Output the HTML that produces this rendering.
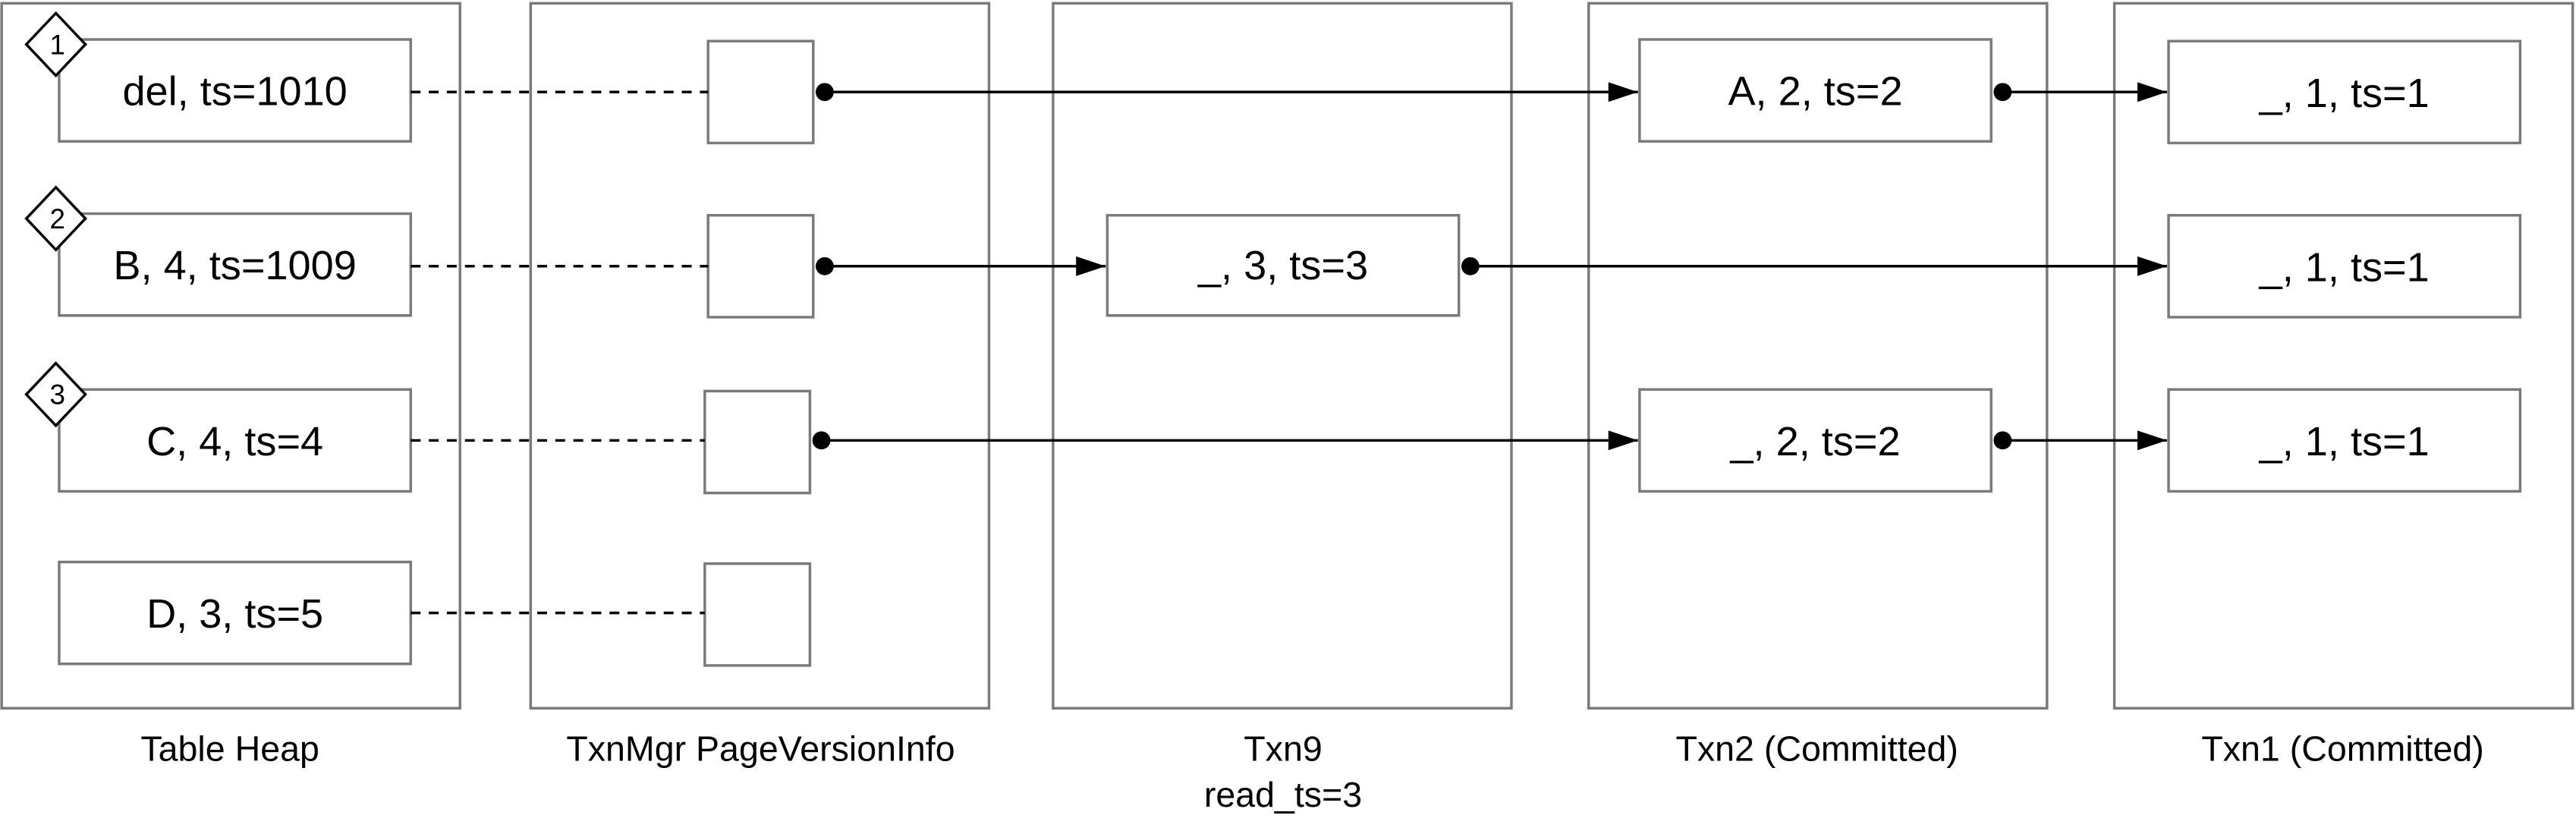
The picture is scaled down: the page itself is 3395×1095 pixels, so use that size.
<!DOCTYPE html>
<html><head><meta charset="utf-8"><style>
html,body{margin:0;padding:0;background:#fff;}
svg{display:block;}
text{font-family:"Liberation Sans",Arial,sans-serif;fill:#000;}
</style></head><body>
<svg width="3395" height="1095" viewBox="0 0 1568 505.7" xmlns="http://www.w3.org/2000/svg">
<defs>
<marker id="ah" viewBox="0 0 18 12" refX="18" refY="6" markerWidth="18" markerHeight="12" markerUnits="userSpaceOnUse" orient="auto"><path d="M0,0 L18,6 L0,12 z" fill="#000"/></marker>
</defs>
<g fill="#fff" stroke="#7a7a7a" stroke-width="1.6">
<rect x="1" y="2" width="279" height="429"/>
<rect x="323" y="2" width="279" height="429"/>
<rect x="641" y="2" width="279" height="429"/>
<rect x="967" y="2" width="279" height="429"/>
<rect x="1287" y="2" width="279" height="429"/>
<rect x="36" y="24" width="214" height="62"/>
<rect x="36" y="130" width="214" height="62"/>
<rect x="36" y="237" width="214" height="62"/>
<rect x="36" y="342" width="214" height="62"/>
<rect x="431" y="25" width="64" height="62"/>
<rect x="431" y="131" width="64" height="62"/>
<rect x="429" y="238" width="64" height="62"/>
<rect x="429" y="343" width="64" height="62"/>
<rect x="674" y="131" width="214" height="61"/>
<rect x="998" y="24" width="214" height="62"/>
<rect x="998" y="237" width="214" height="62"/>
<rect x="1320" y="25" width="214" height="62"/>
<rect x="1320" y="131" width="214" height="62"/>
<rect x="1320" y="237" width="214" height="62"/>
</g>
<g stroke="#000" stroke-width="1.6" stroke-dasharray="6,5">
<line x1="250" y1="56" x2="431" y2="56"/>
<line x1="250" y1="162" x2="431" y2="162"/>
<line x1="250" y1="268" x2="429" y2="268"/>
<line x1="250" y1="373" x2="429" y2="373"/>
</g>
<g stroke="#000" stroke-width="1.6" fill="none">
<line x1="502" y1="56" x2="997" y2="56" marker-end="url(#ah)"/>
<line x1="1219" y1="56" x2="1319" y2="56" marker-end="url(#ah)"/>
<line x1="502" y1="162" x2="673" y2="162" marker-end="url(#ah)"/>
<line x1="895" y1="162" x2="1319" y2="162" marker-end="url(#ah)"/>
<line x1="500" y1="268" x2="997" y2="268" marker-end="url(#ah)"/>
<line x1="1219" y1="268" x2="1319" y2="268" marker-end="url(#ah)"/>
</g>
<g fill="#000">
<circle cx="502" cy="56" r="5.5"/><circle cx="1219" cy="56" r="5.5"/>
<circle cx="502" cy="162" r="5.5"/><circle cx="895" cy="162" r="5.5"/>
<circle cx="500" cy="268" r="5.5"/><circle cx="1219" cy="268" r="5.5"/>
</g>
<g fill="#fff" stroke="#000" stroke-width="1.6">
<path d="M34,8 L52,27 L34,46 L16,27 z"/>
<path d="M34,114 L52,133 L34,152 L16,133 z"/>
<path d="M34,221 L52,240 L34,259 L16,240 z"/>
</g>
<g font-size="17" text-anchor="middle">
<text x="35" y="33">1</text>
<text x="35" y="139">2</text>
<text x="35" y="246">3</text>
</g>
<g font-size="25" text-anchor="middle">
<text x="143" y="64">del, ts=1010</text>
<text x="143" y="170">B, 4, ts=1009</text>
<text x="143" y="277">C, 4, ts=4</text>
<text x="143" y="382">D, 3, ts=5</text>
<text x="781" y="170">_, 3, ts=3</text>
<text x="1105" y="64">A, 2, ts=2</text>
<text x="1105" y="277">_, 2, ts=2</text>
<text x="1427" y="65">_, 1, ts=1</text>
<text x="1427" y="171">_, 1, ts=1</text>
<text x="1427" y="277">_, 1, ts=1</text>
</g>
<g font-size="21.5" text-anchor="middle">
<text x="140" y="463">Table Heap</text>
<text x="463" y="463">TxnMgr PageVersionInfo</text>
<text x="781" y="463">Txn9</text>
<text x="781" y="491">read_ts=3</text>
<text x="1106" y="463">Txn2 (Committed)</text>
<text x="1426" y="463">Txn1 (Committed)</text>
</g>
</svg>
</body></html>
